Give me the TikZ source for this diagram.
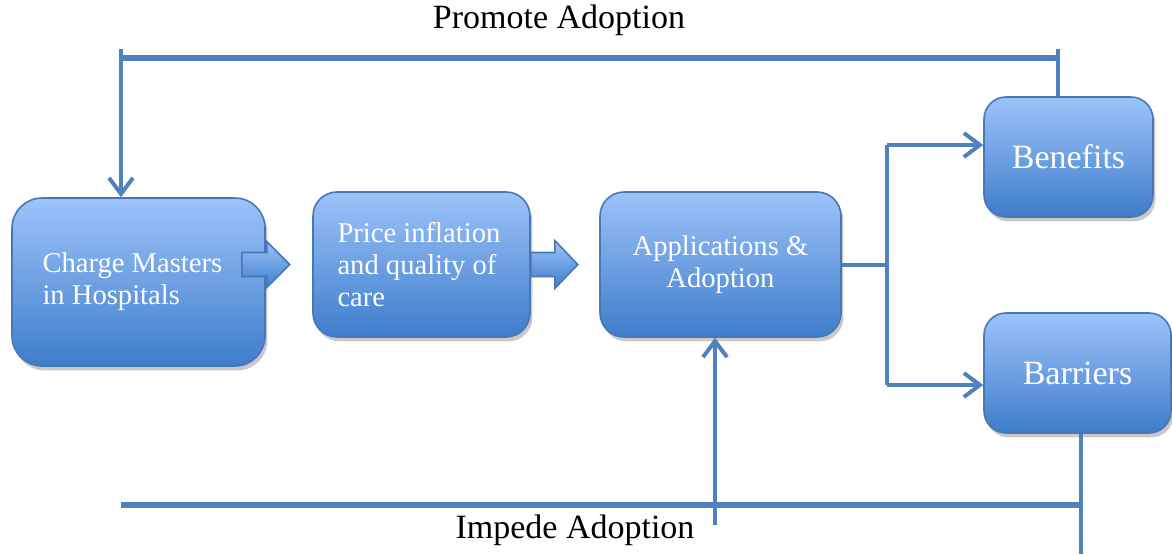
\documentclass[tikz,border=0pt]{standalone}
\usepackage{fontspec}
\setmainfont{Liberation Serif}
\usetikzlibrary{arrows.meta,calc,shadows}

\definecolor{boxtop}{RGB}{157,195,250}
\definecolor{boxbot}{RGB}{62,125,203}
\definecolor{boxline}{RGB}{72,120,180}
\definecolor{linkblue}{RGB}{79,129,189}

\tikzset{
  stagebox/.style={draw=boxline, line width=0.8pt, rounded corners=12pt,
    top color=boxtop, bottom color=boxbot, text=white, inner sep=0pt,
    font=\fontsize{14.3}{16}\selectfont,
    drop shadow={shadow xshift=1.2pt, shadow yshift=-2.2pt, opacity=0.3, fill=black!70}},
  blockarrow/.style={draw=boxline, line width=0.8pt, top color=boxtop, bottom color=boxbot},
  link/.style={linkblue, line width=2pt},
  bar/.style={linkblue, line width=3pt},
  arrowlink/.style={-{Straight Barb[length=8pt,width=12pt]}},
  biglabel/.style={font=\fontsize{17}{20}\selectfont}
}

\begin{document}
\begin{tikzpicture}[x=0.5pt,y=-0.5pt]
  \useasboundingbox (0,0) rectangle (1172,554);

% stages
  \node[stagebox, rounded corners=15pt, minimum width=126.5pt, minimum height=84pt,
        text width=96pt, inner xsep=15pt, align=flush left] (charge) at (138.5,282)
        {Charge Masters\\in Hospitals};
  \node[stagebox, minimum width=108.5pt, minimum height=72.5pt,
        text width=84pt, inner xsep=12.25pt, align=flush left] (price) at (421.5,264.5)
        {Price inflation\\and quality of\\care};
  \node[stagebox, minimum width=120.5pt, minimum height=72.5pt, align=center] (apps) at (720.5,264.5)
        {\raisebox{-2.5pt}{\parbox{110pt}{\centering Applications \&\\Adoption}}};
  \node[stagebox, rounded corners=11pt, minimum width=84.5pt, minimum height=60pt,
        font=\fontsize{17}{20}\selectfont] (benefits) at (1068.5,157) {Benefits};
  \node[stagebox, rounded corners=11pt, minimum width=93.5pt, minimum height=60pt,
        font=\fontsize{17}{20}\selectfont] (barriers) at (1077.5,373) {Barriers};

% block arrows between stages
  \coordinate (arrA) at ($(charge.east |- price.center)+(-24,0)$);
  \coordinate (arrB) at (price.east);
  \path[blockarrow] ($(arrA)+(0,-12)$) -- ++(25,0) -- ++(0,-11) -- ++(23,23)
        -- ++(-23,23) -- ++(0,-11) -- ++(-25,0) -- cycle;
  \path[blockarrow] ($(arrB)+(0,-12)$) -- ++(24,0) -- ++(0,-12) -- ++(23,24)
        -- ++(-23,24) -- ++(0,-12) -- ++(-24,0) -- cycle;

% labels
  \node[biglabel] (promote) at (559,20) {Promote Adoption};
  \node[biglabel] (impede) at (575,530) {Impede Adoption};

% promote loop
  \coordinate (topL) at (121,49);
  \coordinate (topR) at (1058,49);
  \draw[link,arrowlink] (topL) -- (topL |- charge.north);
  \draw[link] (topR) -- (topR |- benefits.north);
  \draw[bar] (topL |- 0,58) -- (topR |- 0,58);

% split to benefits and barriers
  \coordinate (splitA) at (887,145);
  \coordinate (splitB) at (887,385);
  \draw[link] (apps.east) -- (apps.east -| splitA);
  \draw[link] (splitA) -- (splitB);
  \draw[link,arrowlink] (splitA) -- (splitA -| benefits.west);
  \draw[link,arrowlink] (splitB) -- (splitB -| barriers.west);

% impede loop
  \coordinate (lowL) at (121,505);
  \coordinate (lowR) at (1081,505);
  \coordinate (lowEnd) at (1081,554);
  \coordinate (upStart) at (715,525);
  \draw[bar] (lowL) -- (lowR);
  \draw[link] (barriers.south -| lowR) -- (lowEnd);
  \draw[link,arrowlink] (upStart) -- (upStart |- apps.south);
\end{tikzpicture}
\end{document}
